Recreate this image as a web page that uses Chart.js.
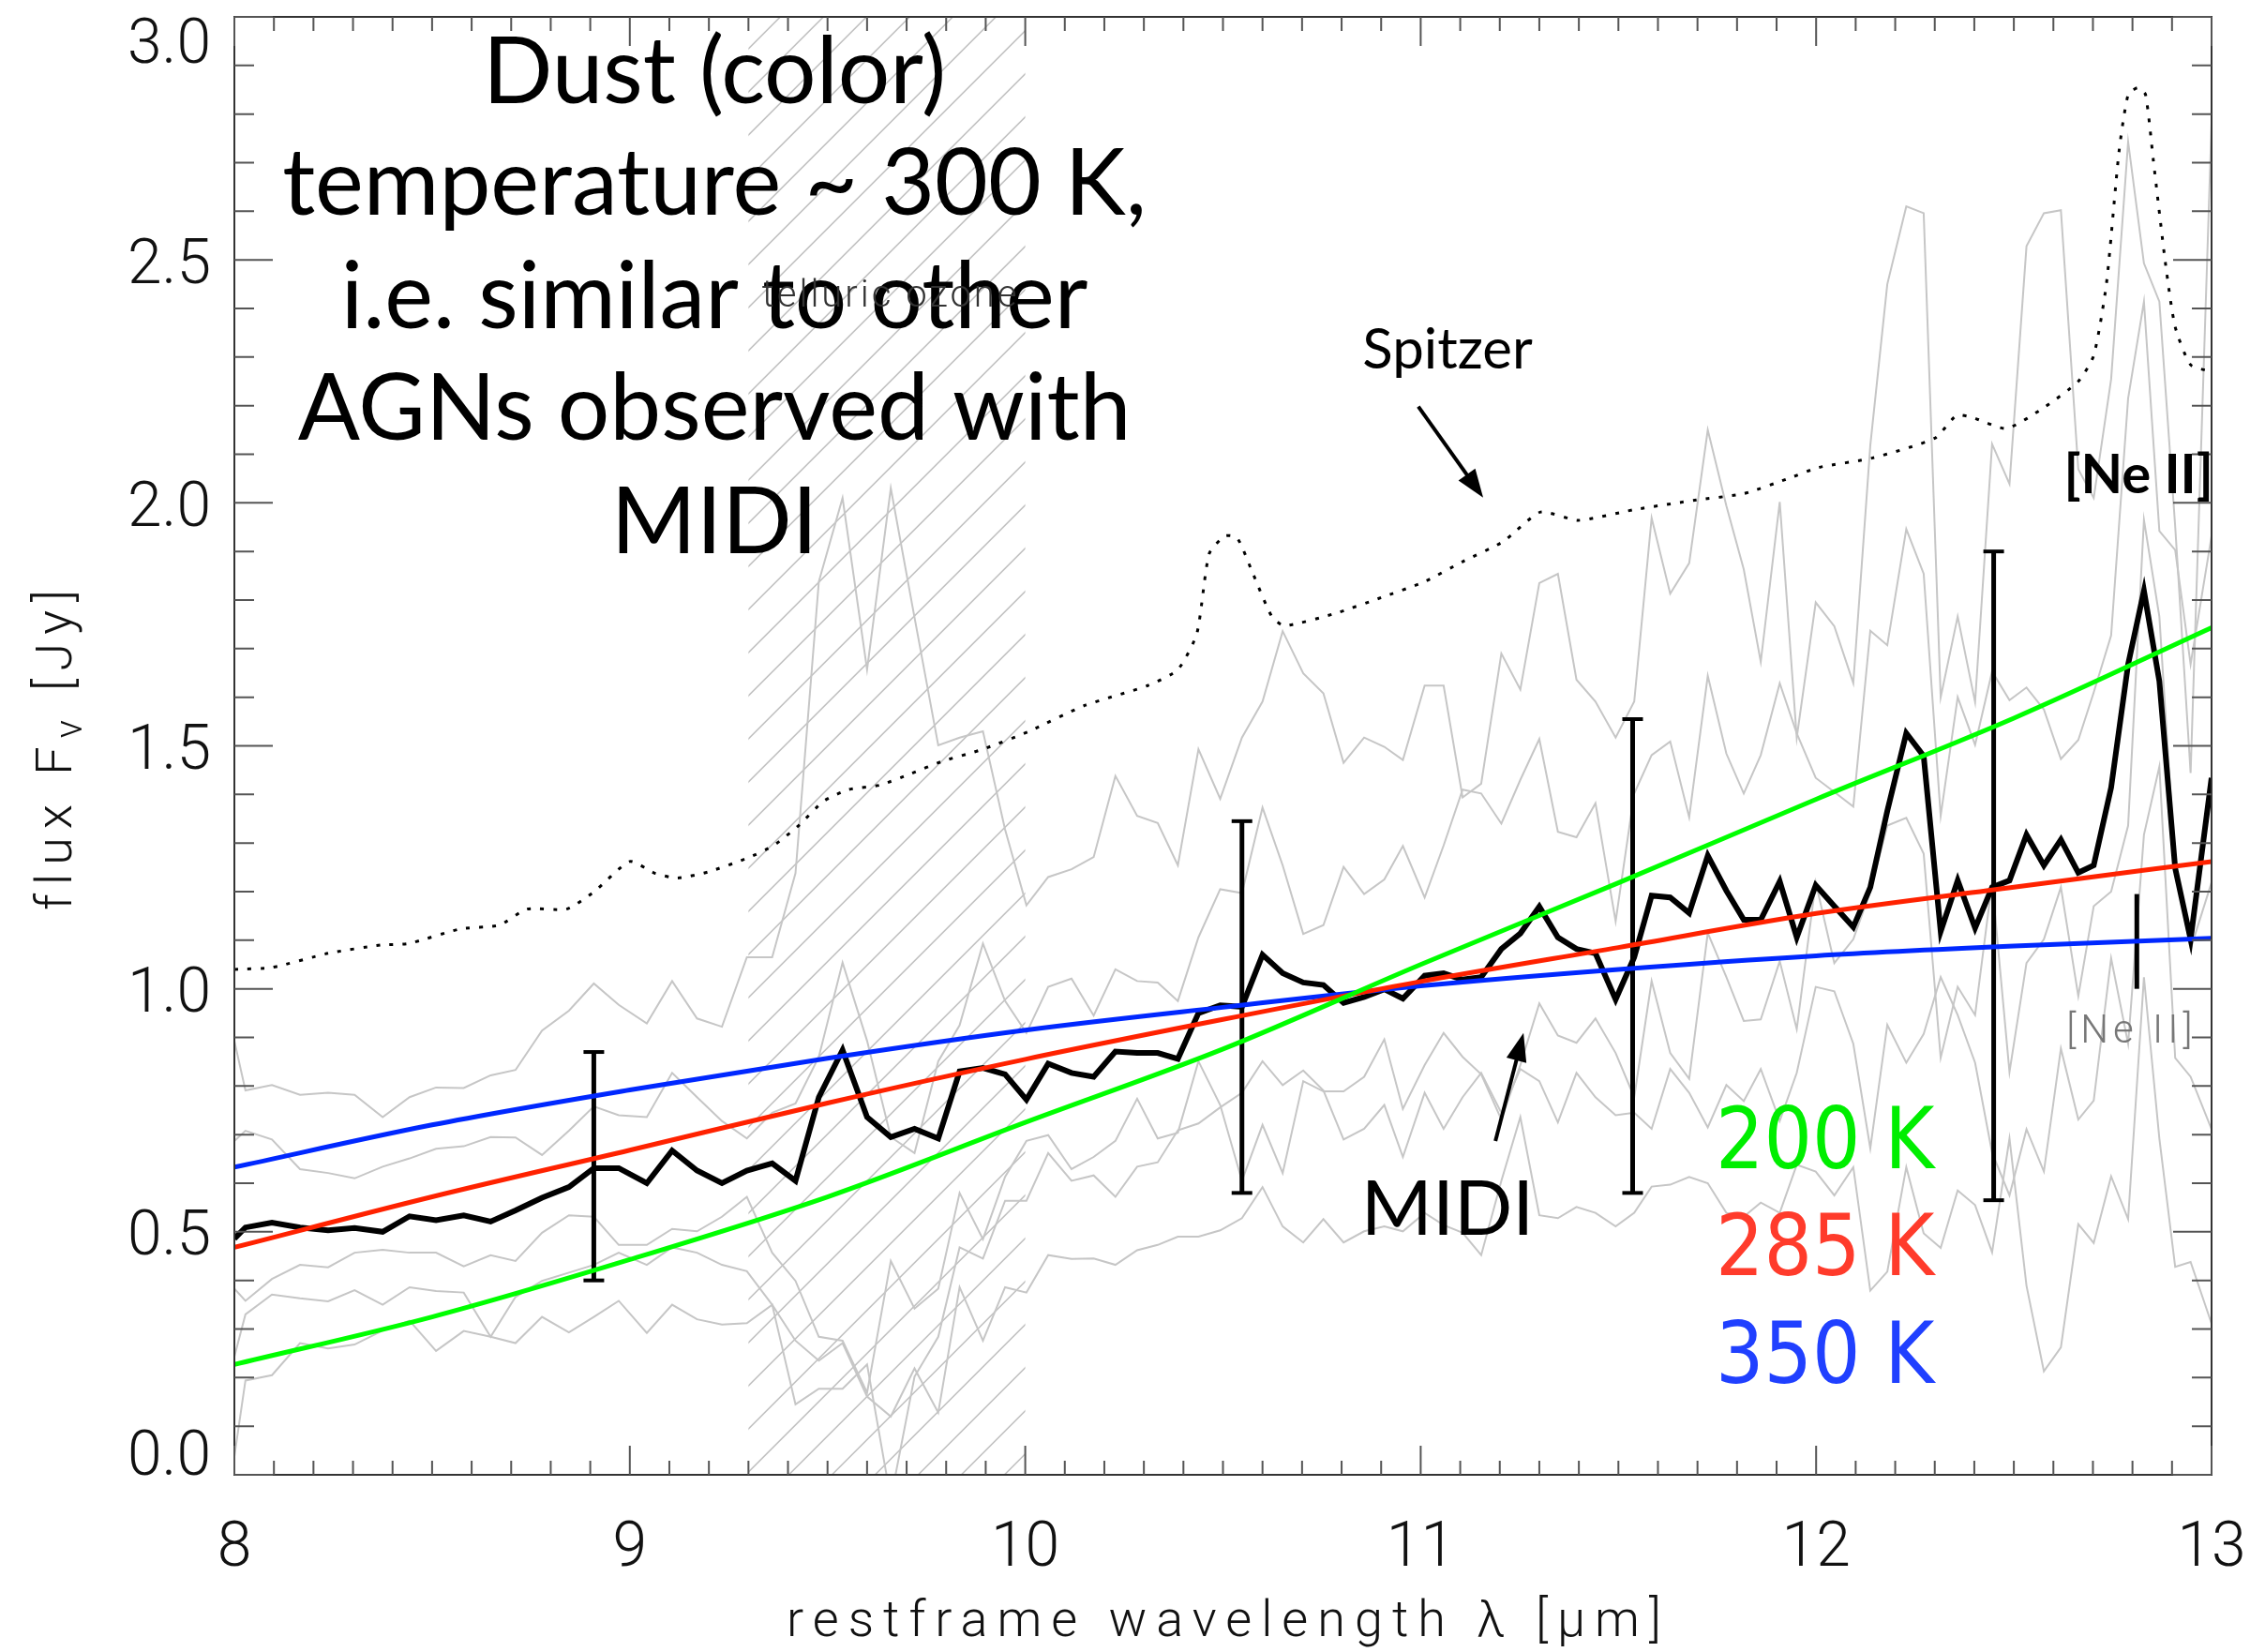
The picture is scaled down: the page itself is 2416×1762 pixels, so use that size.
<!DOCTYPE html>
<html>
<head>
<meta charset="utf-8">
<title>MIDI spectrum vs Spitzer</title>
<script src="https://cdn.jsdelivr.net/npm/chart.js@4.4.1/dist/chart.umd.min.js"></script>
<style>
  html, body { margin: 0; padding: 0; background: #fff; }
  canvas { display: block; }
</style>
</head>
<body>
<canvas id="sedChart" width="2416" height="1762"></canvas>
<script>
// MIDI prism wavelengths (micron), shared by the mean spectrum and the single scans
const wavelength = [
  8.0, 8.028, 8.095, 8.166, 8.237, 8.304, 8.375, 8.443, 8.51, 8.58, 8.648, 8.711, 8.778, 8.846, 8.909, 8.972,
  9.043, 9.107, 9.17, 9.233, 9.296, 9.36, 9.419, 9.478, 9.538, 9.6, 9.66, 9.72, 9.78, 9.834, 9.893, 9.949,
  10.003, 10.058, 10.117, 10.173, 10.228, 10.283, 10.335, 10.386, 10.438, 10.493, 10.548, 10.6, 10.651, 10.703, 10.754, 10.805, 10.857, 10.908, 10.955,
  11.01, 11.058, 11.106, 11.153, 11.204, 11.252, 11.3, 11.347, 11.394, 11.442, 11.493, 11.54, 11.584, 11.631, 11.679, 11.726, 11.773, 11.817, 11.86, 11.908, 11.951,
  11.999, 12.046, 12.094, 12.137, 12.18, 12.228, 12.272, 12.315, 12.358, 12.402, 12.445, 12.489, 12.532, 12.576, 12.619, 12.663, 12.702, 12.746, 12.789, 12.829, 12.868, 12.908, 12.947, 13.0
];

// mean MIDI flux (Jy)
const midiFlux = [
  0.486, 0.509, 0.519, 0.509, 0.503, 0.508, 0.500, 0.532, 0.524, 0.534, 0.521, 0.544, 0.570, 0.592, 0.631, 0.631,
  0.600, 0.667, 0.626, 0.600, 0.626, 0.641, 0.605, 0.777, 0.874, 0.736, 0.695, 0.712, 0.692, 0.830, 0.837, 0.824,
  0.772, 0.846, 0.827, 0.819, 0.871, 0.868, 0.868, 0.856, 0.950, 0.966, 0.963, 1.070, 1.032, 1.013, 1.008, 0.971, 0.983, 0.999, 0.980,
  1.027, 1.032, 1.019, 1.024, 1.082, 1.114, 1.169, 1.106, 1.082, 1.073, 0.978, 1.065, 1.192, 1.188, 1.156, 1.274, 1.202, 1.142, 1.142, 1.221, 1.106,
  1.213, 1.170, 1.127, 1.209, 1.366, 1.526, 1.479, 1.118, 1.223, 1.125, 1.209, 1.223, 1.317, 1.254, 1.307, 1.239, 1.254, 1.414, 1.668, 1.819, 1.633, 1.248, 1.102, 1.434
];

// single MIDI scans (grey)
const scanA = [
  0.893, 0.791, 0.802, 0.782, 0.786, 0.782, 0.736, 0.777, 0.797, 0.796, 0.822, 0.833, 0.914, 0.955, 1.011, 0.967,
  0.929, 1.016, 0.939, 0.922, 1.065, 1.065, 1.238, 1.838, 2.010, 1.657, 2.030, 1.764, 1.501, 1.517, 1.530, 1.328,
  1.172, 1.230, 1.246, 1.271, 1.438, 1.356, 1.341, 1.254, 1.493, 1.391, 1.517, 1.591, 1.736, 1.649, 1.608, 1.465, 1.517, 1.498, 1.471,
  1.624, 1.624, 1.394, 1.422, 1.690, 1.616, 1.835, 1.854, 1.636, 1.591, 1.517, 1.591, 1.969, 1.813, 1.876, 2.150, 1.994, 1.863, 1.673, 2.002, 1.517,
  1.795, 1.746, 1.629, 2.118, 2.450, 2.610, 2.596, 1.600, 1.766, 1.590, 2.121, 2.039, 2.528, 2.596, 2.602, 2.069, 2.010, 2.254, 2.743, 2.493, 2.414, 1.952, 1.444, 2.782
];
const scanB = [
  0.687, 0.708, 0.690, 0.629, 0.621, 0.610, 0.634, 0.651, 0.671, 0.676, 0.695, 0.694, 0.658, 0.708, 0.758, 0.740,
  0.736, 0.827, 0.777, 0.728, 0.692, 0.745, 0.764, 0.860, 1.054, 0.893, 0.695, 0.662, 0.851, 0.925, 1.093, 0.975,
  0.909, 1.004, 1.021, 0.945, 1.040, 1.016, 1.013, 0.975, 1.106, 1.205, 1.197, 1.373, 1.254, 1.113, 1.131, 1.251, 1.195, 1.225, 1.294,
  1.188, 1.295, 1.410, 1.402, 1.340, 1.430, 1.514, 1.323, 1.312, 1.382, 1.139, 1.402, 1.481, 1.509, 1.353, 1.644, 1.484, 1.402, 1.481, 1.629, 1.526,
  1.434, 1.405, 1.375, 1.737, 1.707, 1.946, 1.854, 1.356, 1.600, 1.502, 1.653, 1.594, 1.620, 1.575, 1.473, 1.512, 1.610, 1.727, 2.215, 2.414, 1.942, 1.903, 1.668, 1.932
];
const scanC = [
  0.383, 0.358, 0.403, 0.432, 0.427, 0.457, 0.463, 0.457, 0.457, 0.429, 0.452, 0.440, 0.498, 0.534, 0.531, 0.473,
  0.473, 0.506, 0.501, 0.531, 0.572, 0.457, 0.399, 0.284, 0.276, 0.169, 0.440, 0.342, 0.383, 0.580, 0.485, 0.613,
  0.687, 0.699, 0.629, 0.654, 0.687, 0.774, 0.692, 0.704, 0.851, 0.761, 0.605, 0.720, 0.621, 0.810, 0.789, 0.789, 0.819, 0.896, 0.753,
  0.843, 0.909, 0.860, 0.824, 0.731, 0.843, 0.970, 0.904, 0.889, 0.939, 0.868, 0.777, 1.016, 0.868, 0.815, 1.115, 1.024, 0.934, 0.937, 1.057, 0.917,
  1.219, 1.053, 1.102, 1.200, 1.336, 1.352, 1.278, 0.858, 1.004, 0.946, 1.219, 0.829, 1.053, 1.102, 1.209, 0.985, 1.170, 1.200, 1.336, 1.965, 1.766, 1.248, 1.082, 1.219
];
const scanD = [
  0.038, 0.194, 0.205, 0.271, 0.260, 0.268, 0.297, 0.317, 0.255, 0.296, 0.284, 0.271, 0.325, 0.293, 0.325, 0.358,
  0.292, 0.350, 0.320, 0.309, 0.312, 0.350, 0.145, 0.177, 0.177, 0.227, -0.050, 0.202, 0.284, 0.468, 0.445, 0.564,
  0.564, 0.662, 0.605, 0.616, 0.572, 0.634, 0.643, 0.709, 0.723, 0.756, 0.786, 0.851, 0.802, 0.832, 0.791, 0.690, 0.712, 0.761, 0.654,
  0.786, 0.712, 0.777, 0.827, 0.745, 0.835, 0.810, 0.725, 0.827, 0.777, 0.740, 0.745, 0.712, 0.835, 0.786, 0.715, 0.802, 0.769, 0.835, 0.728, 0.827,
  1.004, 0.995, 0.887, 0.672, 0.926, 0.848, 0.907, 1.024, 0.946, 0.848, 0.663, 0.575, 0.711, 0.624, 0.877, 0.731, 0.770, 1.063, 0.887, 1.317, 1.457, 0.858, 0.819, 0.711
];
const scanE = [
  0.243, 0.330, 0.371, 0.363, 0.357, 0.380, 0.350, 0.386, 0.378, 0.375, 0.284, 0.366, 0.399, 0.416, 0.432, 0.457,
  0.432, 0.468, 0.457, 0.432, 0.419, 0.350, 0.276, 0.235, 0.271, 0.161, 0.120, 0.219, 0.128, 0.386, 0.276, 0.386,
  0.375, 0.452, 0.444, 0.445, 0.432, 0.462, 0.473, 0.490, 0.490, 0.503, 0.528, 0.592, 0.511, 0.478, 0.526, 0.478, 0.501, 0.511, 0.501,
  0.539, 0.514, 0.498, 0.452, 0.605, 0.736, 0.534, 0.528, 0.551, 0.539, 0.511, 0.539, 0.593, 0.597, 0.613, 0.600, 0.539, 0.531, 0.560, 0.539, 0.638,
  0.624, 0.575, 0.633, 0.379, 0.418, 0.633, 0.497, 0.467, 0.585, 0.555, 0.458, 0.692, 0.389, 0.213, 0.262, 0.516, 0.477, 0.614, 0.526, 1.024, 0.692, 0.428, 0.438, 0.311
];

// Spitzer IRS spectrum (dotted)
const spitzerWave = [
  8.0, 8.095, 8.237, 8.37, 8.44, 8.57, 8.67, 8.74, 8.84, 8.91, 9.0, 9.063, 9.12, 9.2, 9.3, 9.364, 9.427, 9.49, 9.553, 9.632,
  9.711, 9.79, 9.893, 10.01, 10.15, 10.31, 10.386, 10.434, 10.465, 10.505, 10.536, 10.576, 10.623, 10.655, 10.782, 10.9,
  11.01, 11.106, 11.208, 11.303, 11.398, 11.54, 11.698, 11.817, 11.936, 12.007, 12.141, 12.3, 12.355, 12.394, 12.481,
  12.576, 12.663, 12.702, 12.734, 12.766, 12.789, 12.813, 12.833, 12.853, 12.884, 12.908, 12.947, 13.0
];
const spitzerFlux = [
  1.04, 1.044, 1.073, 1.09, 1.093, 1.123, 1.131, 1.164, 1.164, 1.20, 1.262, 1.238, 1.228, 1.241, 1.27, 1.295, 1.336, 1.386, 1.41, 1.419,
  1.443, 1.468, 1.493, 1.53, 1.583, 1.624, 1.657, 1.731, 1.895, 1.932, 1.928, 1.854, 1.767, 1.747, 1.772, 1.805,
  1.838, 1.879, 1.92, 1.981, 1.964, 1.986, 2.006, 2.019, 2.052, 2.073, 2.092, 2.133, 2.18, 2.176, 2.153,
  2.196, 2.25, 2.303, 2.45, 2.723, 2.84, 2.854, 2.84, 2.703, 2.489, 2.362, 2.284, 2.27
];

// black body fits
const modelWave = [8.0, 8.5, 9.0, 9.5, 10.0, 10.5, 11.0, 11.5, 12.0, 12.5, 13.0];
const model200 = [0.227, 0.325, 0.443, 0.572, 0.725, 0.876, 1.05, 1.218, 1.39, 1.557, 1.743];
const model285 = [0.468, 0.572, 0.668, 0.765, 0.855, 0.937, 1.015, 1.085, 1.155, 1.209, 1.262];
const model350 = [0.633, 0.72, 0.792, 0.857, 0.915, 0.962, 1.006, 1.04, 1.068, 1.088, 1.104];

// error bars
const errWave = [8.909, 10.548, 11.536, 12.449];
const errLow = [0.40, 0.58, 0.58, 0.565];
const errHigh = [0.87, 1.345, 1.555, 1.90];

// [Ne II] line marker and telluric ozone band
const neIIWave = [12.811, 12.811];
const neIIFlux = [1.0, 1.195];
const ozoneBand = [9.3, 10.0];

// axes
const xTicks = [8, 9, 10, 11, 12, 13];
const yTicks = [0, 0.5, 1.0, 1.5, 2.0, 2.5, 3.0];
const yTickLabels = ['0.0', '0.5', '1.0', '1.5', '2.0', '2.5', '3.0'];

const frameFont = 'Roboto, "DejaVu Sans", sans-serif';
const textFont = 'Lato, "Open Sans", sans-serif';

function toPoints(xs, ys) {
  return xs.map((x, i) => ({ x: x, y: ys[i] }));
}

function errorPoints() {
  const pts = [];
  errWave.forEach((x, i) => {
    pts.push({ x: x, y: errLow[i] });
    pts.push({ x: x, y: errHigh[i] });
    pts.push({ x: x, y: null });
  });
  return pts;
}

function drawArrow(ctx, x1, y1, x2, y2) {
  const ang = Math.atan2(y2 - y1, x2 - x1);
  const head = 30, half = 11;
  ctx.save();
  ctx.strokeStyle = '#000';
  ctx.fillStyle = '#000';
  ctx.lineWidth = 4;
  ctx.beginPath();
  ctx.moveTo(x1, y1);
  ctx.lineTo(x2 - Math.cos(ang) * head * 0.8, y2 - Math.sin(ang) * head * 0.8);
  ctx.stroke();
  ctx.beginPath();
  ctx.moveTo(x2, y2);
  ctx.lineTo(x2 - Math.cos(ang) * head + Math.sin(ang) * half, y2 - Math.sin(ang) * head - Math.cos(ang) * half);
  ctx.lineTo(x2 - Math.cos(ang) * head - Math.sin(ang) * half, y2 - Math.sin(ang) * head + Math.cos(ang) * half);
  ctx.closePath();
  ctx.fill();
  ctx.restore();
}

const idlFrame = {
  id: 'idlFrame',
  beforeDatasetsDraw(chart) {
    const ctx = chart.ctx;
    const xs = chart.scales.x;
    const { top, bottom } = chart.chartArea;
    const x0 = xs.getPixelForValue(ozoneBand[0]);
    const x1 = xs.getPixelForValue(ozoneBand[1]);
    const h = bottom - top;
    ctx.save();
    ctx.beginPath();
    ctx.rect(x0, top, x1 - x0, h);
    ctx.clip();
    ctx.strokeStyle = '#c2c2c2';
    ctx.lineWidth = 1.6;
    ctx.beginPath();
    for (let s = x0 - 3 - 46 * Math.ceil(h / 46); s < x1; s += 46) {
      ctx.moveTo(s, bottom);
      ctx.lineTo(s + h, top);
    }
    ctx.stroke();
    ctx.restore();
  },
  afterDatasetsDraw(chart) {
    const ctx = chart.ctx;
    const xs = chart.scales.x;
    const ys = chart.scales.y;
    const { left, right, top, bottom } = chart.chartArea;
    const X = v => xs.getPixelForValue(v);
    const Y = v => ys.getPixelForValue(v);

    ctx.save();
    // frame
    ctx.strokeStyle = '#333';
    ctx.lineWidth = 2;
    ctx.strokeRect(left, top, right - left, bottom - top);

    // inward ticks on all four sides
    ctx.strokeStyle = '#555';
    ctx.lineWidth = 2;
    ctx.beginPath();
    for (let i = 0; i < xTicks.length; i++) {
      for (let m = 0; m < 10; m++) {
        if (i === xTicks.length - 1 && m > 0) break;
        const px = X(xTicks[i] + m * 0.1);
        const len = m === 0 ? 31 : 15;
        ctx.moveTo(px, bottom); ctx.lineTo(px, bottom - len);
        ctx.moveTo(px, top); ctx.lineTo(px, top + len);
      }
    }
    for (let i = 0; i < yTicks.length; i++) {
      for (let m = 0; m < 5; m++) {
        if (i === yTicks.length - 1 && m > 0) break;
        const py = Y(yTicks[i] + m * 0.1);
        const len = m === 0 ? 41 : 21;
        ctx.moveTo(left, py); ctx.lineTo(left + len, py);
        ctx.moveTo(right, py); ctx.lineTo(right - len, py);
      }
    }
    ctx.stroke();

    // y tick labels (ends kept inside the axis range, as IDL does)
    ctx.fillStyle = '#111';
    ctx.font = '300 66px ' + frameFont;
    ctx.textAlign = 'right';
    ctx.textBaseline = 'alphabetic';
    const capH = ctx.measureText('0').actualBoundingBoxAscent;
    yTicks.forEach((v, i) => {
      let base = Y(v) + capH / 2;
      if (i === 0) base = Y(v);
      if (i === yTicks.length - 1) base = Y(v) + capH;
      ctx.fillText(yTickLabels[i], left - 25, base);
    });

    // axis titles
    ctx.font = '300 54px ' + frameFont;
    ctx.letterSpacing = '10px';
    ctx.textAlign = 'center';
    ctx.fillText('restframe wavelength \u03bb [\u03bcm]', (left + right) / 2 + 6, 1745);

    ctx.save();
    ctx.translate(76, (top + bottom) / 2);
    ctx.rotate(-Math.PI / 2);
    ctx.letterSpacing = '9px';
    ctx.textAlign = 'left';
    const partA = 'flux F', partB = '\u03bd', partC = ' [Jy]';
    ctx.font = '300 54px ' + frameFont;
    const wA = ctx.measureText(partA).width, wC = ctx.measureText(partC).width;
    ctx.font = '300 40px ' + frameFont;
    const wB = ctx.measureText(partB).width;
    const cx = -(wA + wB + wC) / 2;
    ctx.font = '300 54px ' + frameFont;
    ctx.fillText(partA, cx, 0);
    ctx.font = '300 40px ' + frameFont;
    ctx.fillText(partB, cx + wA, 11);
    ctx.font = '300 54px ' + frameFont;
    ctx.fillText(partC, cx + wA + wB, 0);
    ctx.restore();
    ctx.letterSpacing = '0px';

    // main statement
    ctx.fillStyle = '#000';
    ctx.font = '400 98px ' + textFont;
    ctx.textAlign = 'center';
    const lines = ['Dust (color)', 'temperature ~ 300 K,', 'i.e. similar to other', 'AGNs observed with', 'MIDI'];
    const lineBase = [2.823, 2.592, 2.360, 2.129, 1.897];
    lines.forEach((t, i) => ctx.fillText(t, X(9.214), Y(lineBase[i])));

    // telluric ozone label
    ctx.fillStyle = '#333';
    ctx.font = '300 40px ' + frameFont;
    ctx.letterSpacing = '3px';
    ctx.fillText('telluric ozone', X(9.66), Y(2.403));
    ctx.letterSpacing = '0px';

    // Spitzer label and arrow
    ctx.fillStyle = '#000';
    ctx.font = '400 60px ' + textFont;
    ctx.fillText('Spitzer', X(11.068), Y(2.277));
    drawArrow(ctx, X(10.994), Y(2.198), X(11.158), Y(2.011));

    // MIDI label and arrow
    ctx.font = '400 82px ' + textFont;
    ctx.fillText('MIDI', X(11.068), Y(0.494));
    drawArrow(ctx, X(11.189), Y(0.687), X(11.26), Y(0.909));

    // [Ne II] labels
    ctx.font = '700 58px ' + textFont;
    ctx.textAlign = 'right';
    ctx.fillText('[Ne II]', X(13.0) + 2, Y(2.02));
    ctx.fillStyle = '#777';
    ctx.font = '300 42px ' + frameFont;
    ctx.letterSpacing = '5px';
    ctx.textAlign = 'center';
    ctx.fillText('[Ne II]', X(12.798), Y(0.89));
    ctx.letterSpacing = '0px';

    // temperature legend
    ctx.textAlign = 'left';
    ctx.font = '400 90px "DejaVu Sans Condensed", "Noto Sans", sans-serif';
    ctx.fillStyle = '#00ee00';
    ctx.fillText('200 K', X(11.746), Y(0.631));
    ctx.fillStyle = '#ff3b2b';
    ctx.fillText('285 K', X(11.746), Y(0.411));
    ctx.fillStyle = '#2040ff';
    ctx.fillText('350 K', X(11.746), Y(0.189));
    ctx.restore();
  }
};

const grey = { borderColor: '#c6c6c6', borderWidth: 2, pointRadius: 0, tension: 0, order: 6 };

new Chart(document.getElementById('sedChart'), {
  type: 'line',
  data: {
    datasets: [
      Object.assign({ label: 'scan A', data: toPoints(wavelength, scanA) }, grey),
      Object.assign({ label: 'scan B', data: toPoints(wavelength, scanB) }, grey),
      Object.assign({ label: 'scan C', data: toPoints(wavelength, scanC) }, grey),
      Object.assign({ label: 'scan D', data: toPoints(wavelength, scanD) }, grey),
      Object.assign({ label: 'scan E', data: toPoints(wavelength, scanE) }, grey),
      {
        label: 'Spitzer',
        data: toPoints(spitzerWave, spitzerFlux),
        borderColor: '#000', borderWidth: 3, borderDash: [4, 10],
        pointRadius: 0, tension: 0.2, order: 5
      },
      {
        label: 'MIDI',
        data: toPoints(wavelength, midiFlux),
        borderColor: '#000', borderWidth: 6, pointRadius: 0, tension: 0, order: 4
      },
      {
        label: 'errors',
        data: errorPoints(),
        borderColor: '#000', borderWidth: 5, spanGaps: false,
        pointStyle: 'line', pointRadius: 11, pointBorderWidth: 4, pointBorderColor: '#000',
        order: 3
      },
      {
        label: '[Ne II]',
        data: toPoints(neIIWave, neIIFlux),
        borderColor: '#000', borderWidth: 5, pointRadius: 0, order: 3
      },
      {
        label: '200 K',
        data: toPoints(modelWave, model200),
        borderColor: '#00ff00', borderWidth: 5, pointRadius: 0,
        tension: 0.4, cubicInterpolationMode: 'monotone', order: 1
      },
      {
        label: '285 K',
        data: toPoints(modelWave, model285),
        borderColor: '#ff2200', borderWidth: 5, pointRadius: 0,
        tension: 0.4, cubicInterpolationMode: 'monotone', order: 1
      },
      {
        label: '350 K',
        data: toPoints(modelWave, model350),
        borderColor: '#0028ff', borderWidth: 5, pointRadius: 0,
        tension: 0.4, cubicInterpolationMode: 'monotone', order: 1
      }
    ]
  },
  options: {
    responsive: false,
    devicePixelRatio: 1,
    animation: false,
    layout: { padding: { left: 0, right: 57, top: 18, bottom: 0 } },
    plugins: {
      legend: { display: false },
      tooltip: { enabled: false }
    },
    scales: {
      x: {
        type: 'linear',
        min: 8, max: 13,
        grid: { display: false, drawTicks: false },
        border: { display: false },
        afterBuildTicks: scale => { scale.ticks = xTicks.map(v => ({ value: v })); },
        afterFit: scale => {
          scale.height = 189;
          scale.paddingLeft = 0;
          scale.paddingRight = 0;
        },
        ticks: {
          color: '#111',
          padding: 41,
          maxRotation: 0,
          font: { family: frameFont, size: 66, weight: '300' },
          callback: v => String(v)
        }
      },
      y: {
        min: 0, max: 3,
        grid: { display: false, drawTicks: false },
        border: { display: false },
        ticks: { display: false },
        afterFit: scale => { scale.width = 250; }
      }
    }
  },
  plugins: [idlFrame]
});
</script>
</body>
</html>
